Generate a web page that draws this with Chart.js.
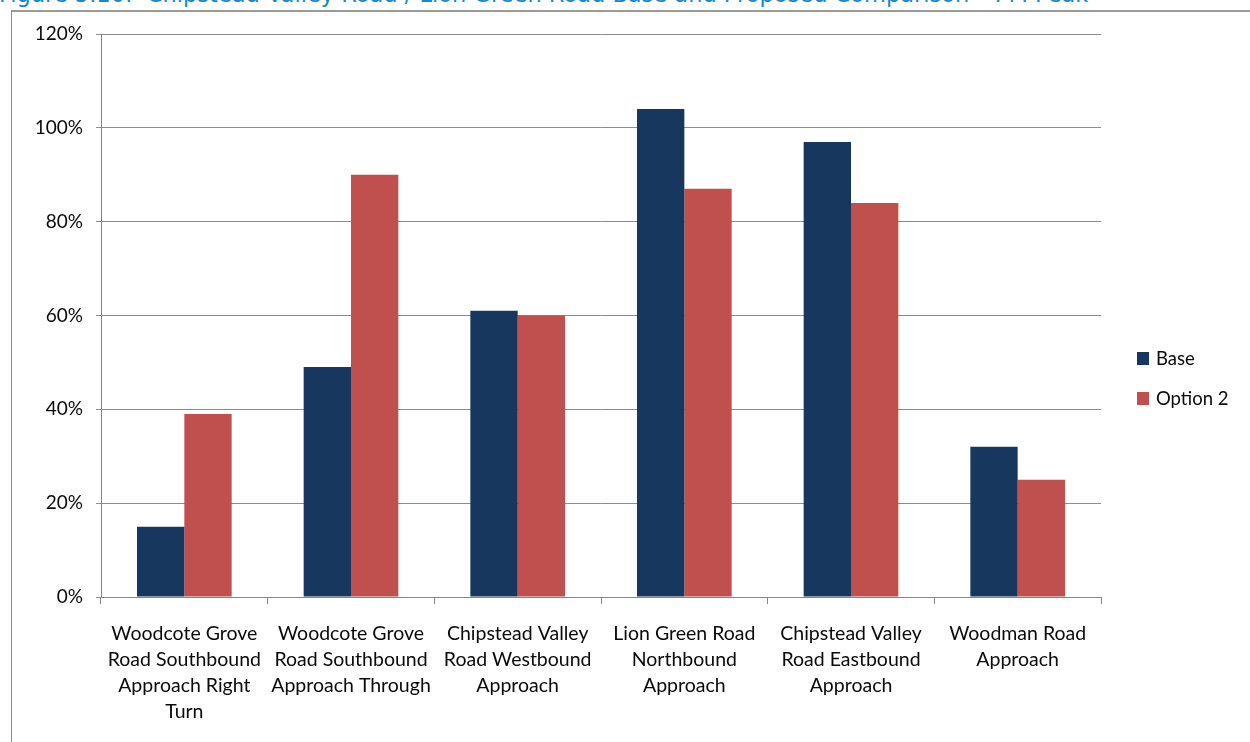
<!DOCTYPE html>
<html>
<head>
<meta charset="utf-8">
<script src="https://cdn.jsdelivr.net/npm/chart.js@4.4.0/dist/chart.umd.min.js"></script>
<style>
  body { margin: 0; background: #fff; overflow: hidden; }
  #page { position: relative; width: 1250px; height: 742px; overflow: hidden; }
  #title {
    position: absolute; left: -1px; top: -19px;
    font: 22.5px "DejaVu Sans", Verdana, sans-serif; color: #1a86d0;
    white-space: pre;
  }
  #frame {
    position: absolute; left: 11px; top: 10px; width: 1400px; height: 900px;
    border-left: 1px solid #8c8c8c; border-top: 2px solid #9a9a9a;
  }
  #wrap { position: absolute; left: 0; top: 0; width: 1250px; height: 742px; }
</style>
</head>
<body>
<div id="page">
  <div id="title">Figure 5.10:  Chipstead Valley Road / Lion Green Road Base and Proposed Comparison – PM Peak</div>
  <div id="frame"></div>
  <div id="wrap"><canvas id="chart"></canvas></div>
</div>
<script>
// categories (multi-line, as wrapped in the picture)
const approaches = [
    ["Woodcote Grove", "Road Southbound", "Approach Right", "Turn"],
    ["Woodcote Grove", "Road Southbound", "Approach Through"],
    ["Chipstead Valley", "Road Westbound", "Approach"],
    ["Lion Green Road", "Northbound", "Approach"],
    ["Chipstead Valley", "Road Eastbound", "Approach"],
    ["Woodman Road", "Approach"]
];
// degree of saturation, %
const baseValues = [15, 49, 61, 104, 97, 32];
const option2Values = [39, 90, 60, 87, 84, 25];
const yTicks = [0, 20, 40, 60, 80, 100, 120];

const FONT = "Lato";
const TEXT = "#0a0a0a";

// legend drawn at right of the plot like the original
const sideLegend = {
    id: "sideLegend",
    afterDraw(chart) {
        const ctx = chart.ctx;
        ctx.save();
        ctx.font = "18.5px " + FONT;
        ctx.textBaseline = "middle";
        chart.data.datasets.forEach((ds, i) => {
            const y = 359 + i * 40;
            ctx.fillStyle = ds.backgroundColor;
            ctx.fillRect(1137, y - 7, 12, 13);
            ctx.fillStyle = TEXT;
            ctx.fillText(ds.label, 1156, y);
        });
        ctx.restore();
    }
};

new Chart("chart", {
    type: "bar",
    data: {
        labels: approaches,
        datasets: [
            { label: "Base", data: baseValues, backgroundColor: "#17375E" },
            { label: "Option 2", data: option2Values, backgroundColor: "#C0504D" }
        ]
    },
    plugins: [sideLegend],
    options: {
        responsive: true,
        maintainAspectRatio: false,
        animation: false,
        layout: { padding: { left: 0, top: 34, right: 149, bottom: 0 } },
        datasets: { bar: { barPercentage: 1, categoryPercentage: 0.568 } },
        plugins: { legend: { display: false }, tooltip: { enabled: false } },
        scales: {
            x: {
                offset: true,
                grid: { offset: true, drawOnChartArea: false, drawTicks: true, tickLength: 7, color: "#868686" },
                border: { color: "#868686" },
                ticks: {
                    maxRotation: 0, autoSkip: false, padding: 17,
                    color: TEXT, font: { family: FONT, size: 19.5, lineHeight: 26 / 19.5 }
                },
                afterFit: (scale) => { scale.height = 145; }
            },
            y: {
                min: 0, max: 120,
                afterBuildTicks: (scale) => { scale.ticks = yTicks.map(v => ({ value: v })); },
                grid: { color: "#8c8c8c", tickLength: 5 },
                border: { color: "#868686" },
                ticks: {
                    padding: 13, color: TEXT, font: { family: FONT, size: 19 },
                    callback: (v) => v + "%"
                },
                afterFit: (scale) => { scale.width = 101; }
            }
        }
    }
});
</script>
</body>
</html>
